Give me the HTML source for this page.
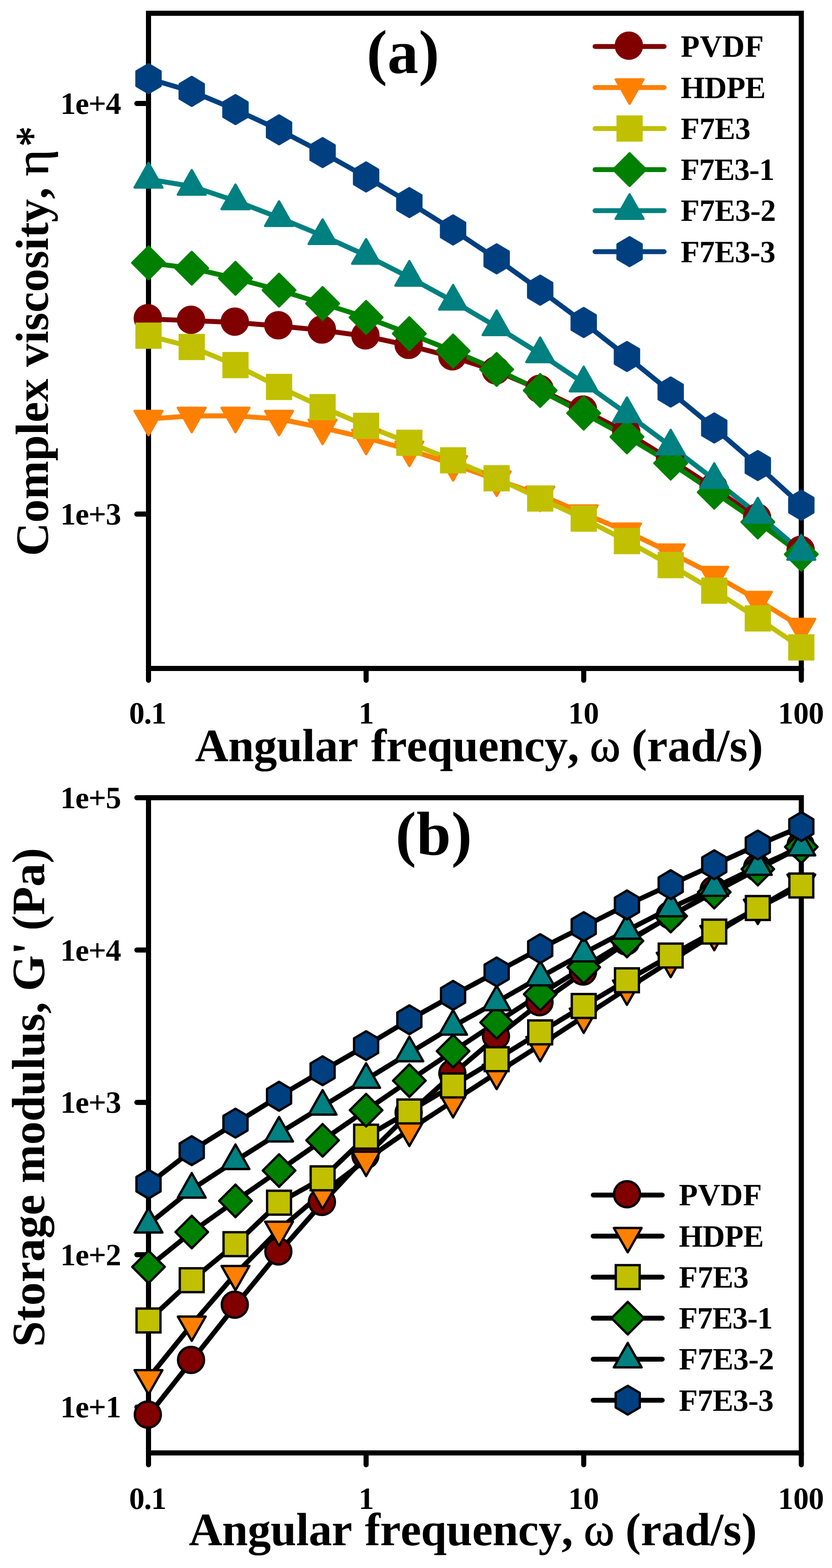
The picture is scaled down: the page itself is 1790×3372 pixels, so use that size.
<!DOCTYPE html>
<html lang="en"><head><meta charset="utf-8"><title>Complex viscosity and storage modulus versus angular frequency</title>
<style>
html,body{margin:0;padding:0;background:#fff}
body{width:1790px;height:3372px;overflow:hidden}
svg{display:block}
text{font-family:"Liberation Serif","DejaVu Serif",serif;font-weight:bold;fill:#000;font-kerning:none;text-rendering:geometricPrecision}
.t{font-size:66.67px}.l{font-size:100px}.p{font-size:133.33px}
.g{font-weight:normal;stroke:#000;stroke-width:1.3px;stroke-linejoin:round}
.ax{stroke:#000;stroke-width:11;fill:none}
.tk{stroke:#000;stroke-width:11;fill:none;stroke-linecap:round}
.ln{fill:none;stroke-width:10.5;stroke-linejoin:round;stroke-linecap:round}
.dl{stroke-width:10.6}
.mk{stroke-width:5;stroke-linejoin:round}
.sq{stroke-linejoin:miter}
</style></head><body>
<svg width="1790" height="3372" viewBox="0 0 1790 3372" role="img" aria-label="Complex viscosity and storage modulus versus angular frequency for PVDF, HDPE and F7E3 blends">
<rect width="1790" height="3372" fill="#fff"/>
<g id="panel-a">
<rect class="ax" x="319.5" y="28.5" width="1404.5" height="1409"/>
<line class="tk" x1="294.5" y1="222.5" x2="319.5" y2="222.5"/>
<line class="tk" x1="294.5" y1="1105.5" x2="319.5" y2="1105.5"/>
<line class="tk" x1="319.5" y1="1437.5" x2="319.5" y2="1462.9"/>
<line class="tk" x1="787.67" y1="1437.5" x2="787.67" y2="1462.9"/>
<line class="tk" x1="1255.83" y1="1437.5" x2="1255.83" y2="1462.9"/>
<line class="tk" x1="1724" y1="1437.5" x2="1724" y2="1462.9"/>
<polyline class="ln dl" stroke="#800000" points="319.5,686 412.5,689.5 506.61,693.4 600.35,701.1 694.05,710.3 787.67,723 880.67,743.3 974.78,768 1068.51,798.1 1162.21,838 1255.83,882.5 1348.84,930.7 1442.95,988.7 1536.68,1049.4 1630.38,1114.7 1724,1184.3"/>
<polyline class="ln dl" stroke="#ff8000" points="319.5,901 412.5,894.4 506.61,894.4 600.35,901 694.05,920 787.67,941.7 880.67,967.2 974.78,998.4 1068.51,1031.4 1162.21,1064 1255.83,1104.3 1348.84,1143.2 1442.95,1188.4 1536.68,1236.5 1630.38,1290.4 1724,1348.2"/>
<polyline class="ln dl" stroke="#c0c000" points="319.5,721.9 412.5,746.2 506.61,785.1 600.35,832.1 694.05,875.6 787.67,915.8 880.67,952.2 974.78,990 1068.51,1028.5 1162.21,1072.1 1255.83,1115.3 1348.84,1163.6 1442.95,1215.3 1536.68,1270.3 1630.38,1329.9 1724,1392.3"/>
<polyline class="ln dl" stroke="#008000" points="319.5,565.2 412.5,576.8 506.61,598.5 600.35,623.9 694.05,652.7 787.67,682.5 880.67,717.5 974.78,754.7 1068.51,794.4 1162.21,839.7 1255.83,888.5 1348.84,939.5 1442.95,996 1536.68,1058.4 1630.38,1122.4 1724,1191.9"/>
<polyline class="ln dl" stroke="#008080" points="319.5,385.5 412.5,400.8 506.61,432 600.35,468.1 694.05,506.8 787.67,549.3 880.67,596.5 974.78,647.9 1068.51,702.8 1162.21,761 1255.83,823.7 1348.84,889.8 1442.95,959.4 1536.68,1031.4 1630.38,1105.8 1724,1185.7"/>
<polyline class="ln dl" stroke="#004080" points="319.5,169.1 412.5,196.5 506.61,235.7 600.35,279.2 694.05,328.1 787.67,380.5 880.67,435.6 974.78,494.5 1068.51,556.6 1162.21,624 1255.83,693.5 1348.84,766.6 1442.95,843 1536.68,920.4 1630.38,1001.2 1724,1086.4"/>
<g class="mk" fill="#800000" stroke="#800000">
<circle cx="318" cy="684.3" r="28"/>
<circle cx="411" cy="687.8" r="28"/>
<circle cx="505.11" cy="691.7" r="28"/>
<circle cx="598.85" cy="699.4" r="28"/>
<circle cx="692.55" cy="708.6" r="28"/>
<circle cx="786.17" cy="721.3" r="28"/>
<circle cx="879.17" cy="741.6" r="28"/>
<circle cx="973.28" cy="766.3" r="28"/>
<circle cx="1067.01" cy="796.4" r="28"/>
<circle cx="1160.71" cy="836.3" r="28"/>
<circle cx="1254.33" cy="880.8" r="28"/>
<circle cx="1347.34" cy="929" r="28"/>
<circle cx="1441.45" cy="987" r="28"/>
<circle cx="1535.18" cy="1047.7" r="28"/>
<circle cx="1628.88" cy="1113" r="28"/>
<circle cx="1722.5" cy="1182.6" r="28"/>
</g>
<g class="mk" fill="#ff8000" stroke="#ff8000">
<polygon points="289.6,883.7 349.4,883.7 319.5,936"/>
<polygon points="382.6,877.1 442.4,877.1 412.5,929.4"/>
<polygon points="476.71,877.1 536.51,877.1 506.61,929.4"/>
<polygon points="570.45,883.7 630.25,883.7 600.35,936"/>
<polygon points="664.15,902.7 723.95,902.7 694.05,955"/>
<polygon points="757.77,924.4 817.57,924.4 787.67,976.7"/>
<polygon points="850.77,949.9 910.57,949.9 880.67,1002.2"/>
<polygon points="944.88,981.1 1004.68,981.1 974.78,1033.4"/>
<polygon points="1038.61,1014.1 1098.41,1014.1 1068.51,1066.4"/>
<polygon points="1132.31,1046.7 1192.11,1046.7 1162.21,1099"/>
<polygon points="1225.93,1087 1285.73,1087 1255.83,1139.3"/>
<polygon points="1318.94,1125.9 1378.74,1125.9 1348.84,1178.2"/>
<polygon points="1413.05,1171.1 1472.85,1171.1 1442.95,1223.4"/>
<polygon points="1506.78,1219.2 1566.58,1219.2 1536.68,1271.5"/>
<polygon points="1600.48,1273.1 1660.28,1273.1 1630.38,1325.4"/>
<polygon points="1694.1,1330.9 1753.9,1330.9 1724,1383.2"/>
</g>
<g class="mk" fill="#c0c000" stroke="#c0c000">
<rect class="sq" x="293.8" y="696.2" width="51.4" height="51.4"/>
<rect class="sq" x="386.8" y="720.5" width="51.4" height="51.4"/>
<rect class="sq" x="480.91" y="759.4" width="51.4" height="51.4"/>
<rect class="sq" x="574.65" y="806.4" width="51.4" height="51.4"/>
<rect class="sq" x="668.35" y="849.9" width="51.4" height="51.4"/>
<rect class="sq" x="761.97" y="890.1" width="51.4" height="51.4"/>
<rect class="sq" x="854.97" y="926.5" width="51.4" height="51.4"/>
<rect class="sq" x="949.08" y="964.3" width="51.4" height="51.4"/>
<rect class="sq" x="1042.81" y="1002.8" width="51.4" height="51.4"/>
<rect class="sq" x="1136.51" y="1046.4" width="51.4" height="51.4"/>
<rect class="sq" x="1230.13" y="1089.6" width="51.4" height="51.4"/>
<rect class="sq" x="1323.14" y="1137.9" width="51.4" height="51.4"/>
<rect class="sq" x="1417.25" y="1189.6" width="51.4" height="51.4"/>
<rect class="sq" x="1510.98" y="1244.6" width="51.4" height="51.4"/>
<rect class="sq" x="1604.68" y="1304.2" width="51.4" height="51.4"/>
<rect class="sq" x="1698.3" y="1366.6" width="51.4" height="51.4"/>
</g>
<g class="mk" fill="#008000" stroke="#008000">
<polygon points="319.5,530.2 354.5,565.2 319.5,600.2 284.5,565.2"/>
<polygon points="412.5,541.8 447.5,576.8 412.5,611.8 377.5,576.8"/>
<polygon points="506.61,563.5 541.61,598.5 506.61,633.5 471.61,598.5"/>
<polygon points="600.35,588.9 635.35,623.9 600.35,658.9 565.35,623.9"/>
<polygon points="694.05,617.7 729.05,652.7 694.05,687.7 659.05,652.7"/>
<polygon points="787.67,647.5 822.67,682.5 787.67,717.5 752.67,682.5"/>
<polygon points="880.67,682.5 915.67,717.5 880.67,752.5 845.67,717.5"/>
<polygon points="974.78,719.7 1009.78,754.7 974.78,789.7 939.78,754.7"/>
<polygon points="1068.51,759.4 1103.51,794.4 1068.51,829.4 1033.51,794.4"/>
<polygon points="1162.21,804.7 1197.21,839.7 1162.21,874.7 1127.21,839.7"/>
<polygon points="1255.83,853.5 1290.83,888.5 1255.83,923.5 1220.83,888.5"/>
<polygon points="1348.84,904.5 1383.84,939.5 1348.84,974.5 1313.84,939.5"/>
<polygon points="1442.95,961 1477.95,996 1442.95,1031 1407.95,996"/>
<polygon points="1536.68,1023.4 1571.68,1058.4 1536.68,1093.4 1501.68,1058.4"/>
<polygon points="1630.38,1087.4 1665.38,1122.4 1630.38,1157.4 1595.38,1122.4"/>
<polygon points="1724,1156.9 1759,1191.9 1724,1226.9 1689,1191.9"/>
</g>
<g class="mk" fill="#008080" stroke="#008080">
<polygon points="289.6,403.2 349.4,403.2 319.5,350.5"/>
<polygon points="382.6,418.5 442.4,418.5 412.5,365.8"/>
<polygon points="476.71,449.7 536.51,449.7 506.61,397"/>
<polygon points="570.45,485.8 630.25,485.8 600.35,433.1"/>
<polygon points="664.15,524.5 723.95,524.5 694.05,471.8"/>
<polygon points="757.77,567 817.57,567 787.67,514.3"/>
<polygon points="850.77,614.2 910.57,614.2 880.67,561.5"/>
<polygon points="944.88,665.6 1004.68,665.6 974.78,612.9"/>
<polygon points="1038.61,720.5 1098.41,720.5 1068.51,667.8"/>
<polygon points="1132.31,778.7 1192.11,778.7 1162.21,726"/>
<polygon points="1225.93,841.4 1285.73,841.4 1255.83,788.7"/>
<polygon points="1318.94,907.5 1378.74,907.5 1348.84,854.8"/>
<polygon points="1413.05,977.1 1472.85,977.1 1442.95,924.4"/>
<polygon points="1506.78,1049.1 1566.58,1049.1 1536.68,996.4"/>
<polygon points="1600.48,1123.5 1660.28,1123.5 1630.38,1070.8"/>
<polygon points="1694.1,1203.4 1753.9,1203.4 1724,1150.7"/>
</g>
<g class="mk" fill="#004080" stroke="#004080">
<polygon points="319.5,138.1 345.4,153.4 345.4,184.8 319.5,200.1 293.6,184.8 293.6,153.4"/>
<polygon points="412.5,165.5 438.4,180.8 438.4,212.2 412.5,227.5 386.6,212.2 386.6,180.8"/>
<polygon points="506.61,204.7 532.51,220 532.51,251.4 506.61,266.7 480.71,251.4 480.71,220"/>
<polygon points="600.35,248.2 626.25,263.5 626.25,294.9 600.35,310.2 574.45,294.9 574.45,263.5"/>
<polygon points="694.05,297.1 719.95,312.4 719.95,343.8 694.05,359.1 668.15,343.8 668.15,312.4"/>
<polygon points="787.67,349.5 813.57,364.8 813.57,396.2 787.67,411.5 761.77,396.2 761.77,364.8"/>
<polygon points="880.67,404.6 906.57,419.9 906.57,451.3 880.67,466.6 854.77,451.3 854.77,419.9"/>
<polygon points="974.78,463.5 1000.68,478.8 1000.68,510.2 974.78,525.5 948.88,510.2 948.88,478.8"/>
<polygon points="1068.51,525.6 1094.41,540.9 1094.41,572.3 1068.51,587.6 1042.61,572.3 1042.61,540.9"/>
<polygon points="1162.21,593 1188.11,608.3 1188.11,639.7 1162.21,655 1136.31,639.7 1136.31,608.3"/>
<polygon points="1255.83,662.5 1281.73,677.8 1281.73,709.2 1255.83,724.5 1229.93,709.2 1229.93,677.8"/>
<polygon points="1348.84,735.6 1374.74,750.9 1374.74,782.3 1348.84,797.6 1322.94,782.3 1322.94,750.9"/>
<polygon points="1442.95,812 1468.85,827.3 1468.85,858.7 1442.95,874 1417.05,858.7 1417.05,827.3"/>
<polygon points="1536.68,889.4 1562.58,904.7 1562.58,936.1 1536.68,951.4 1510.78,936.1 1510.78,904.7"/>
<polygon points="1630.38,970.2 1656.28,985.5 1656.28,1016.9 1630.38,1032.2 1604.48,1016.9 1604.48,985.5"/>
<polygon points="1724,1055.4 1749.9,1070.7 1749.9,1102.1 1724,1117.4 1698.1,1102.1 1698.1,1070.7"/>
</g>
<line class="ln" stroke="#800000" x1="1280.2" y1="99.9" x2="1428.8" y2="99.9"/>
<g class="mk" fill="#800000" stroke="#800000"><circle cx="1353" cy="98.2" r="28"/></g>
<text class="t" x="1464.46" y="122.4" style="letter-spacing:0.33px">PVDF</text>
<line class="ln" stroke="#ff8000" x1="1280.2" y1="188.15" x2="1428.8" y2="188.15"/>
<g class="mk" fill="#ff8000" stroke="#ff8000"><polygon points="1324.6,170.85 1384.4,170.85 1354.5,223.15"/></g>
<text class="t" x="1464.46" y="210.65" style="letter-spacing:-0.71px">HDPE</text>
<line class="ln" stroke="#c0c000" x1="1280.2" y1="276.4" x2="1428.8" y2="276.4"/>
<g class="mk" fill="#c0c000" stroke="#c0c000"><rect class="sq" x="1328.8" y="250.7" width="51.4" height="51.4"/></g>
<text class="t" x="1464.46" y="298.9" style="letter-spacing:-0.48px">F7E3</text>
<line class="ln" stroke="#008000" x1="1280.2" y1="364.65" x2="1428.8" y2="364.65"/>
<g class="mk" fill="#008000" stroke="#008000"><polygon points="1354.5,329.65 1389.5,364.65 1354.5,399.65 1319.5,364.65"/></g>
<text class="t" x="1464.46" y="387.15" style="letter-spacing:-1.06px">F7E3-1</text>
<line class="ln" stroke="#008080" x1="1280.2" y1="452.9" x2="1428.8" y2="452.9"/>
<g class="mk" fill="#008080" stroke="#008080"><polygon points="1324.6,470.6 1384.4,470.6 1354.5,417.9"/></g>
<text class="t" x="1464.46" y="475.4" style="letter-spacing:-0.52px">F7E3-2</text>
<line class="ln" stroke="#004080" x1="1280.2" y1="541.15" x2="1428.8" y2="541.15"/>
<g class="mk" fill="#004080" stroke="#004080"><polygon points="1354.5,510.15 1380.4,525.45 1380.4,556.85 1354.5,572.15 1328.6,556.85 1328.6,525.45"/></g>
<text class="t" x="1464.46" y="563.65" style="letter-spacing:-0.64px">F7E3-3</text>
<text class="t" x="129.66" y="245" style="letter-spacing:-1px">1e+4</text>
<text class="t" x="129.66" y="1128" style="letter-spacing:-1px">1e+3</text>
</g>
<g id="panel-b">
<rect class="ax" x="319.5" y="1715.5" width="1404.5" height="1409"/>
<line class="tk" x1="294.5" y1="1715.5" x2="319.5" y2="1715.5"/>
<line class="tk" x1="294.5" y1="2043.1" x2="319.5" y2="2043.1"/>
<line class="tk" x1="294.5" y1="2370.69" x2="319.5" y2="2370.69"/>
<line class="tk" x1="294.5" y1="2698.29" x2="319.5" y2="2698.29"/>
<line class="tk" x1="294.5" y1="3025.88" x2="319.5" y2="3025.88"/>
<line class="tk" x1="319.5" y1="3124.5" x2="319.5" y2="3149.9"/>
<line class="tk" x1="787.67" y1="3124.5" x2="787.67" y2="3149.9"/>
<line class="tk" x1="1255.83" y1="3124.5" x2="1255.83" y2="3149.9"/>
<line class="tk" x1="1724" y1="3124.5" x2="1724" y2="3149.9"/>
<polyline class="ln dl" stroke="#000" points="319.5,3043.8 412.5,2926.2 506.61,2807.5 600.35,2692.9 694.05,2586.5 787.67,2486.2 880.67,2394.4 974.78,2309.7 1068.51,2229.7 1162.21,2156.9 1255.83,2091 1348.84,2026.1 1442.95,1969.7 1536.68,1915.7 1630.38,1867.2 1724,1819.2"/>
<polyline class="ln dl" stroke="#000" points="319.5,2963.7 412.5,2848.6 506.61,2739.8 600.35,2644.5 694.05,2565 787.67,2494.1 880.67,2429.6 974.78,2368.1 1068.51,2307.2 1162.21,2247.4 1255.83,2186.3 1348.84,2126 1442.95,2066.4 1536.68,2008.5 1630.38,1952.1 1724,1898.1"/>
<polyline class="ln dl" stroke="#000" points="319.5,2839.7 412.5,2753.1 506.61,2675.6 600.35,2586.4 694.05,2534 787.67,2444.4 880.67,2390.2 974.78,2334.3 1068.51,2277.8 1162.21,2220.1 1255.83,2163.4 1348.84,2108.1 1442.95,2054.9 1536.68,2003.4 1630.38,1952.7 1724,1904.3"/>
<polyline class="ln dl" stroke="#000" points="319.5,2724.6 412.5,2649.5 506.61,2582.5 600.35,2517.3 694.05,2452.2 787.67,2387.4 880.67,2323.9 974.78,2260.6 1068.51,2198.8 1162.21,2138 1255.83,2080 1348.84,2023.5 1442.95,1970 1536.68,1918.5 1630.38,1869 1724,1821.3"/>
<polyline class="ln dl" stroke="#000" points="319.5,2632.7 412.5,2557.7 506.61,2496.2 600.35,2437.1 694.05,2379.3 787.67,2321.5 880.67,2264.5 974.78,2207.2 1068.51,2154.8 1162.21,2101.4 1255.83,2049.7 1348.84,2001 1442.95,1952.8 1536.68,1908.9 1630.38,1863.6 1724,1821.9"/>
<polyline class="ln dl" stroke="#000" points="319.5,2546.5 412.5,2474.5 506.61,2415.4 600.35,2357.5 694.05,2302.6 787.67,2248.7 880.67,2193 974.78,2140.5 1068.51,2090.2 1162.21,2040 1255.83,1992.7 1348.84,1946 1442.95,1902.5 1536.68,1859.6 1630.38,1817.2 1724,1777.5"/>
<g class="mk" fill="#800000" stroke="#000">
<circle cx="318" cy="3042.1" r="28"/>
<circle cx="411" cy="2924.5" r="28"/>
<circle cx="505.11" cy="2805.8" r="28"/>
<circle cx="598.85" cy="2691.2" r="28"/>
<circle cx="692.55" cy="2584.8" r="28"/>
<circle cx="786.17" cy="2484.5" r="28"/>
<circle cx="879.17" cy="2392.7" r="28"/>
<circle cx="973.28" cy="2308" r="28"/>
<circle cx="1067.01" cy="2228" r="28"/>
<circle cx="1160.71" cy="2155.2" r="28"/>
<circle cx="1254.33" cy="2089.3" r="28"/>
<circle cx="1347.34" cy="2024.4" r="28"/>
<circle cx="1441.45" cy="1968" r="28"/>
<circle cx="1535.18" cy="1914" r="28"/>
<circle cx="1628.88" cy="1865.5" r="28"/>
<circle cx="1722.5" cy="1817.5" r="28"/>
</g>
<g class="mk" fill="#ff8000" stroke="#000">
<polygon points="289.6,2946.4 349.4,2946.4 319.5,2998.7"/>
<polygon points="382.6,2831.3 442.4,2831.3 412.5,2883.6"/>
<polygon points="476.71,2722.5 536.51,2722.5 506.61,2774.8"/>
<polygon points="570.45,2627.2 630.25,2627.2 600.35,2679.5"/>
<polygon points="664.15,2547.7 723.95,2547.7 694.05,2600"/>
<polygon points="757.77,2476.8 817.57,2476.8 787.67,2529.1"/>
<polygon points="850.77,2412.3 910.57,2412.3 880.67,2464.6"/>
<polygon points="944.88,2350.8 1004.68,2350.8 974.78,2403.1"/>
<polygon points="1038.61,2289.9 1098.41,2289.9 1068.51,2342.2"/>
<polygon points="1132.31,2230.1 1192.11,2230.1 1162.21,2282.4"/>
<polygon points="1225.93,2169 1285.73,2169 1255.83,2221.3"/>
<polygon points="1318.94,2108.7 1378.74,2108.7 1348.84,2161"/>
<polygon points="1413.05,2049.1 1472.85,2049.1 1442.95,2101.4"/>
<polygon points="1506.78,1991.2 1566.58,1991.2 1536.68,2043.5"/>
<polygon points="1600.48,1934.8 1660.28,1934.8 1630.38,1987.1"/>
<polygon points="1694.1,1880.8 1753.9,1880.8 1724,1933.1"/>
</g>
<g class="mk" fill="#c0c000" stroke="#000">
<rect class="sq" x="293.8" y="2814" width="51.4" height="51.4"/>
<rect class="sq" x="386.8" y="2727.4" width="51.4" height="51.4"/>
<rect class="sq" x="480.91" y="2649.9" width="51.4" height="51.4"/>
<rect class="sq" x="574.65" y="2560.7" width="51.4" height="51.4"/>
<rect class="sq" x="668.35" y="2508.3" width="51.4" height="51.4"/>
<rect class="sq" x="761.97" y="2418.7" width="51.4" height="51.4"/>
<rect class="sq" x="854.97" y="2364.5" width="51.4" height="51.4"/>
<rect class="sq" x="949.08" y="2308.6" width="51.4" height="51.4"/>
<rect class="sq" x="1042.81" y="2252.1" width="51.4" height="51.4"/>
<rect class="sq" x="1136.51" y="2194.4" width="51.4" height="51.4"/>
<rect class="sq" x="1230.13" y="2137.7" width="51.4" height="51.4"/>
<rect class="sq" x="1323.14" y="2082.4" width="51.4" height="51.4"/>
<rect class="sq" x="1417.25" y="2029.2" width="51.4" height="51.4"/>
<rect class="sq" x="1510.98" y="1977.7" width="51.4" height="51.4"/>
<rect class="sq" x="1604.68" y="1927" width="51.4" height="51.4"/>
<rect class="sq" x="1698.3" y="1878.6" width="51.4" height="51.4"/>
</g>
<g class="mk" fill="#008000" stroke="#000">
<polygon points="319.5,2689.6 354.5,2724.6 319.5,2759.6 284.5,2724.6"/>
<polygon points="412.5,2614.5 447.5,2649.5 412.5,2684.5 377.5,2649.5"/>
<polygon points="506.61,2547.5 541.61,2582.5 506.61,2617.5 471.61,2582.5"/>
<polygon points="600.35,2482.3 635.35,2517.3 600.35,2552.3 565.35,2517.3"/>
<polygon points="694.05,2417.2 729.05,2452.2 694.05,2487.2 659.05,2452.2"/>
<polygon points="787.67,2352.4 822.67,2387.4 787.67,2422.4 752.67,2387.4"/>
<polygon points="880.67,2288.9 915.67,2323.9 880.67,2358.9 845.67,2323.9"/>
<polygon points="974.78,2225.6 1009.78,2260.6 974.78,2295.6 939.78,2260.6"/>
<polygon points="1068.51,2163.8 1103.51,2198.8 1068.51,2233.8 1033.51,2198.8"/>
<polygon points="1162.21,2103 1197.21,2138 1162.21,2173 1127.21,2138"/>
<polygon points="1255.83,2045 1290.83,2080 1255.83,2115 1220.83,2080"/>
<polygon points="1348.84,1988.5 1383.84,2023.5 1348.84,2058.5 1313.84,2023.5"/>
<polygon points="1442.95,1935 1477.95,1970 1442.95,2005 1407.95,1970"/>
<polygon points="1536.68,1883.5 1571.68,1918.5 1536.68,1953.5 1501.68,1918.5"/>
<polygon points="1630.38,1834 1665.38,1869 1630.38,1904 1595.38,1869"/>
<polygon points="1724,1786.3 1759,1821.3 1724,1856.3 1689,1821.3"/>
</g>
<g class="mk" fill="#008080" stroke="#000">
<polygon points="289.6,2650.4 349.4,2650.4 319.5,2597.7"/>
<polygon points="382.6,2575.4 442.4,2575.4 412.5,2522.7"/>
<polygon points="476.71,2513.9 536.51,2513.9 506.61,2461.2"/>
<polygon points="570.45,2454.8 630.25,2454.8 600.35,2402.1"/>
<polygon points="664.15,2397 723.95,2397 694.05,2344.3"/>
<polygon points="757.77,2339.2 817.57,2339.2 787.67,2286.5"/>
<polygon points="850.77,2282.2 910.57,2282.2 880.67,2229.5"/>
<polygon points="944.88,2224.9 1004.68,2224.9 974.78,2172.2"/>
<polygon points="1038.61,2172.5 1098.41,2172.5 1068.51,2119.8"/>
<polygon points="1132.31,2119.1 1192.11,2119.1 1162.21,2066.4"/>
<polygon points="1225.93,2067.4 1285.73,2067.4 1255.83,2014.7"/>
<polygon points="1318.94,2018.7 1378.74,2018.7 1348.84,1966"/>
<polygon points="1413.05,1970.5 1472.85,1970.5 1442.95,1917.8"/>
<polygon points="1506.78,1926.6 1566.58,1926.6 1536.68,1873.9"/>
<polygon points="1600.48,1881.3 1660.28,1881.3 1630.38,1828.6"/>
<polygon points="1694.1,1839.6 1753.9,1839.6 1724,1786.9"/>
</g>
<g class="mk" fill="#004080" stroke="#000">
<polygon points="319.5,2515.5 345.4,2530.8 345.4,2562.2 319.5,2577.5 293.6,2562.2 293.6,2530.8"/>
<polygon points="412.5,2443.5 438.4,2458.8 438.4,2490.2 412.5,2505.5 386.6,2490.2 386.6,2458.8"/>
<polygon points="506.61,2384.4 532.51,2399.7 532.51,2431.1 506.61,2446.4 480.71,2431.1 480.71,2399.7"/>
<polygon points="600.35,2326.5 626.25,2341.8 626.25,2373.2 600.35,2388.5 574.45,2373.2 574.45,2341.8"/>
<polygon points="694.05,2271.6 719.95,2286.9 719.95,2318.3 694.05,2333.6 668.15,2318.3 668.15,2286.9"/>
<polygon points="787.67,2217.7 813.57,2233 813.57,2264.4 787.67,2279.7 761.77,2264.4 761.77,2233"/>
<polygon points="880.67,2162 906.57,2177.3 906.57,2208.7 880.67,2224 854.77,2208.7 854.77,2177.3"/>
<polygon points="974.78,2109.5 1000.68,2124.8 1000.68,2156.2 974.78,2171.5 948.88,2156.2 948.88,2124.8"/>
<polygon points="1068.51,2059.2 1094.41,2074.5 1094.41,2105.9 1068.51,2121.2 1042.61,2105.9 1042.61,2074.5"/>
<polygon points="1162.21,2009 1188.11,2024.3 1188.11,2055.7 1162.21,2071 1136.31,2055.7 1136.31,2024.3"/>
<polygon points="1255.83,1961.7 1281.73,1977 1281.73,2008.4 1255.83,2023.7 1229.93,2008.4 1229.93,1977"/>
<polygon points="1348.84,1915 1374.74,1930.3 1374.74,1961.7 1348.84,1977 1322.94,1961.7 1322.94,1930.3"/>
<polygon points="1442.95,1871.5 1468.85,1886.8 1468.85,1918.2 1442.95,1933.5 1417.05,1918.2 1417.05,1886.8"/>
<polygon points="1536.68,1828.6 1562.58,1843.9 1562.58,1875.3 1536.68,1890.6 1510.78,1875.3 1510.78,1843.9"/>
<polygon points="1630.38,1786.2 1656.28,1801.5 1656.28,1832.9 1630.38,1848.2 1604.48,1832.9 1604.48,1801.5"/>
<polygon points="1724,1746.5 1749.9,1761.8 1749.9,1793.2 1724,1808.5 1698.1,1793.2 1698.1,1761.8"/>
</g>
<line class="ln" stroke="#000" x1="1276.2" y1="2569.9" x2="1424.8" y2="2569.9"/>
<g class="mk" fill="#800000" stroke="#000"><circle cx="1349" cy="2568.2" r="28"/></g>
<text class="t" x="1460.46" y="2592.4" style="letter-spacing:0.33px">PVDF</text>
<line class="ln" stroke="#000" x1="1276.2" y1="2658.15" x2="1424.8" y2="2658.15"/>
<g class="mk" fill="#ff8000" stroke="#000"><polygon points="1320.6,2640.85 1380.4,2640.85 1350.5,2693.15"/></g>
<text class="t" x="1460.46" y="2680.65" style="letter-spacing:-0.71px">HDPE</text>
<line class="ln" stroke="#000" x1="1276.2" y1="2746.4" x2="1424.8" y2="2746.4"/>
<g class="mk" fill="#c0c000" stroke="#000"><rect class="sq" x="1324.8" y="2720.7" width="51.4" height="51.4"/></g>
<text class="t" x="1460.46" y="2768.9" style="letter-spacing:-0.48px">F7E3</text>
<line class="ln" stroke="#000" x1="1276.2" y1="2834.65" x2="1424.8" y2="2834.65"/>
<g class="mk" fill="#008000" stroke="#000"><polygon points="1350.5,2799.65 1385.5,2834.65 1350.5,2869.65 1315.5,2834.65"/></g>
<text class="t" x="1460.46" y="2857.15" style="letter-spacing:-1.06px">F7E3-1</text>
<line class="ln" stroke="#000" x1="1276.2" y1="2922.9" x2="1424.8" y2="2922.9"/>
<g class="mk" fill="#008080" stroke="#000"><polygon points="1320.6,2940.6 1380.4,2940.6 1350.5,2887.9"/></g>
<text class="t" x="1460.46" y="2945.4" style="letter-spacing:-0.52px">F7E3-2</text>
<line class="ln" stroke="#000" x1="1276.2" y1="3011.15" x2="1424.8" y2="3011.15"/>
<g class="mk" fill="#004080" stroke="#000"><polygon points="1350.5,2980.15 1376.4,2995.45 1376.4,3026.85 1350.5,3042.15 1324.6,3026.85 1324.6,2995.45"/></g>
<text class="t" x="1460.46" y="3033.65" style="letter-spacing:-0.64px">F7E3-3</text>
<text class="t" x="129.66" y="1738" style="letter-spacing:-1px">1e+5</text>
<text class="t" x="129.66" y="2065.6" style="letter-spacing:-1px">1e+4</text>
<text class="t" x="129.66" y="2393.19" style="letter-spacing:-1px">1e+3</text>
<text class="t" x="129.66" y="2720.79" style="letter-spacing:-1px">1e+2</text>
<text class="t" x="129.66" y="3048.38" style="letter-spacing:-1px">1e+1</text>
</g>
<text class="t" x="277.86" y="1556" style="letter-spacing:-1.37px">0.1</text>
<text class="t" x="771.46" y="1556">1</text>
<text class="t" x="1222.56" y="1556" style="letter-spacing:-0.29px">10</text>
<text class="t" x="1673.76" y="1556" style="letter-spacing:-0.41px">100</text>
<text class="t" x="277.86" y="3244.5" style="letter-spacing:-1.37px">0.1</text>
<text class="t" x="771.46" y="3244.5">1</text>
<text class="t" x="1222.56" y="3244.5" style="letter-spacing:-0.29px">10</text>
<text class="t" x="1673.76" y="3244.5" style="letter-spacing:-0.41px">100</text>
<text class="l" x="419.42" y="1636.7" style="letter-spacing:-0.65px">Angular</text>
<text class="l" x="798.27" y="1636.7" style="letter-spacing:-0.54px">frequency,</text>
<text class="l g" x="1269.09" y="1636.7">ω</text>
<text class="l" x="1358.71" y="1636.7" style="letter-spacing:-0.05px">(rad/s)</text>
<text class="l" x="406.22" y="3323.3" style="letter-spacing:-0.65px">Angular</text>
<text class="l" x="785.07" y="3323.3" style="letter-spacing:-0.54px">frequency,</text>
<text class="l g" x="1255.89" y="3323.3">ω</text>
<text class="l" x="1345.51" y="3323.3" style="letter-spacing:-0.05px">(rad/s)</text>
<text class="l" transform="translate(103 0) rotate(-90)" x="-1195.88" y="0" style="letter-spacing:-0.31px">Complex</text>
<text class="l" transform="translate(103 0) rotate(-90)" x="-789.1" y="0" style="letter-spacing:0.01px">viscosity,</text>
<text class="l g" textLength="57" lengthAdjust="spacingAndGlyphs" transform="translate(103 0) rotate(-90)" x="-378.6" y="0">η</text>
<text class="l g" textLength="43.5" lengthAdjust="spacingAndGlyphs" transform="translate(101.5 0) rotate(-90)" x="-315.25" y="0">*</text>
<text class="l" transform="translate(95.2 0) rotate(-90)" x="-2896.62" y="0" style="letter-spacing:-0.05px">Storage</text>
<text class="l" transform="translate(95.2 0) rotate(-90)" x="-2544.69" y="0" style="letter-spacing:-0.29px">modulus,</text>
<text class="l" transform="translate(95.2 0) rotate(-90)" x="-2131.68" y="0" style="letter-spacing:0.78px">G'</text>
<text class="l" transform="translate(95.2 0) rotate(-90)" x="-2001.29" y="0" style="letter-spacing:0.07px">(Pa)</text>
<text class="p" x="788.64" y="157" style="letter-spacing:0.58px">(a)</text>
<text class="p" x="850.94" y="1838" style="letter-spacing:0.73px">(b)</text>
</svg></body></html>
